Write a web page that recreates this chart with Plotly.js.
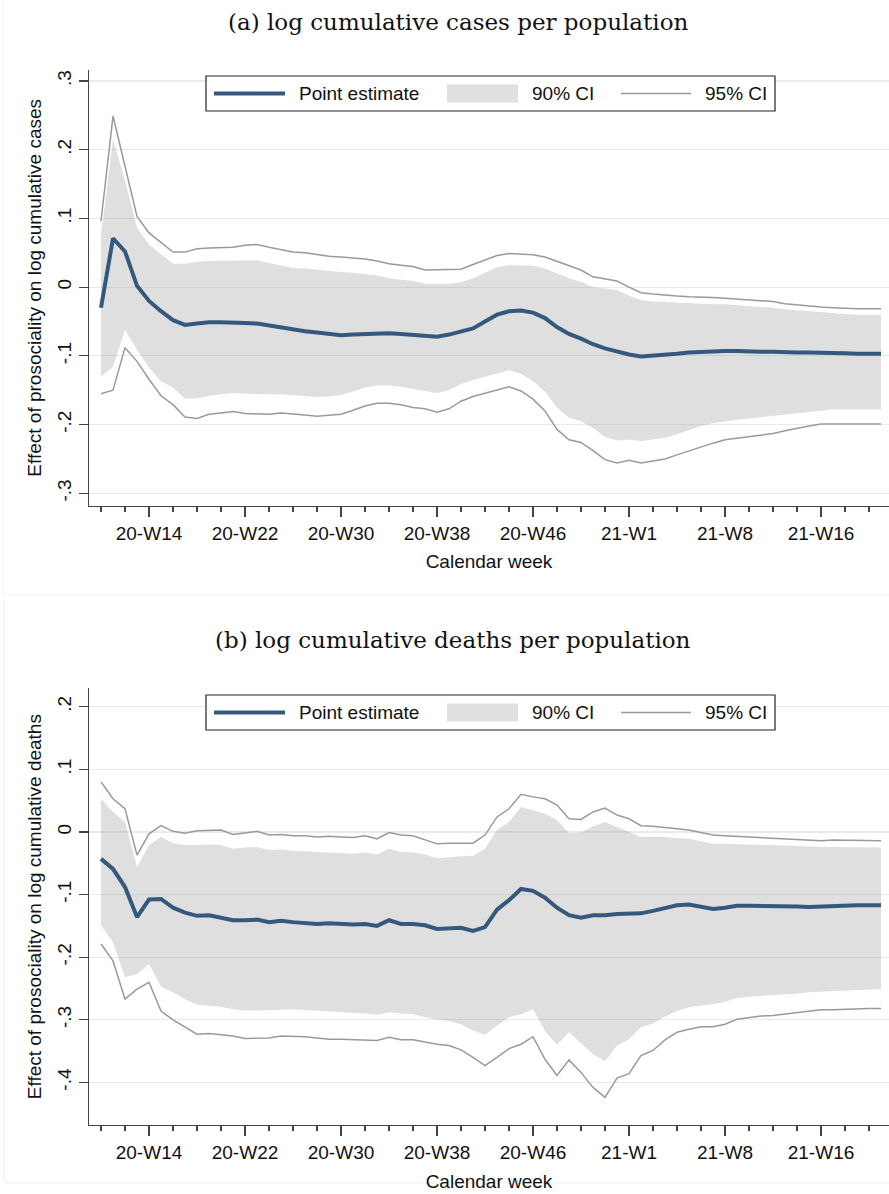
<!DOCTYPE html>
<html>
<head>
<meta charset="utf-8">
<script src="https://cdn.plot.ly/plotly-3.0.1.min.js"></script>
<style>
html,body{margin:0;padding:0;background:#fff;}
#chart{width:889px;height:1194px;}
</style>
</head>
<body>
<div id="chart"></div>
<script>
// ---- Data ----
// x: calendar weeks, index 0 = 2020-W10 ... index 65
const tickWeeks = [4, 12, 20, 28, 36, 44, 52, 60];
const tickLabels = ['20-W14', '20-W22', '20-W30', '20-W38', '20-W46', '21-W1', '21-W8', '21-W16'];

// (a) log cumulative cases per population
const casesPoint = [-0.030,0.071,0.052,0.002,-0.020,-0.035,-0.048,-0.055,-0.053,-0.051,-0.051,-0.051,-0.052,-0.053,-0.056,-0.059,-0.062,-0.064,-0.066,-0.068,-0.070,-0.069,-0.068,-0.068,-0.067,-0.068,-0.069,-0.070,-0.072,-0.069,-0.065,-0.060,-0.050,-0.040,-0.035,-0.034,-0.037,-0.045,-0.058,-0.068,-0.075,-0.083,-0.089,-0.094,-0.098,-0.101,-0.100,-0.099,-0.097,-0.095,-0.094,-0.093,-0.093,-0.093,-0.094,-0.094,-0.094,-0.095,-0.095,-0.095,-0.095,-0.096,-0.096,-0.097,-0.097,-0.097];
const casesHi90 = [0.075,0.215,0.155,0.086,0.062,0.048,0.034,0.034,0.037,0.038,0.038,0.038,0.039,0.039,0.035,0.031,0.028,0.027,0.025,0.023,0.022,0.021,0.019,0.017,0.013,0.011,0.009,0.005,0.005,0.005,0.007,0.013,0.021,0.029,0.032,0.032,0.031,0.027,0.020,0.013,0.008,0.000,-0.002,-0.004,-0.012,-0.019,-0.021,-0.022,-0.023,-0.023,-0.024,-0.025,-0.025,-0.026,-0.027,-0.028,-0.030,-0.032,-0.034,-0.035,-0.036,-0.038,-0.039,-0.040,-0.040,-0.040];
const casesLo90 = [-0.130,-0.116,-0.062,-0.091,-0.117,-0.137,-0.146,-0.162,-0.162,-0.158,-0.156,-0.154,-0.155,-0.156,-0.156,-0.156,-0.157,-0.158,-0.160,-0.159,-0.157,-0.152,-0.146,-0.143,-0.143,-0.145,-0.148,-0.150,-0.154,-0.150,-0.141,-0.135,-0.130,-0.125,-0.121,-0.126,-0.137,-0.152,-0.175,-0.190,-0.195,-0.205,-0.218,-0.223,-0.222,-0.224,-0.222,-0.219,-0.214,-0.208,-0.202,-0.198,-0.195,-0.193,-0.191,-0.189,-0.188,-0.186,-0.184,-0.181,-0.179,-0.178,-0.178,-0.178,-0.178,-0.178];
const casesHi95 = [0.096,0.249,0.176,0.103,0.079,0.065,0.051,0.051,0.056,0.057,0.058,0.058,0.061,0.062,0.058,0.055,0.051,0.050,0.047,0.045,0.044,0.043,0.041,0.038,0.034,0.032,0.030,0.025,0.025,0.025,0.026,0.033,0.039,0.046,0.049,0.048,0.047,0.044,0.038,0.031,0.025,0.015,0.012,0.009,0.000,-0.008,-0.010,-0.012,-0.013,-0.014,-0.014,-0.015,-0.016,-0.017,-0.018,-0.020,-0.021,-0.024,-0.026,-0.028,-0.029,-0.030,-0.031,-0.0315,-0.0315,-0.0315];
const casesLo95 = [-0.155,-0.150,-0.088,-0.108,-0.134,-0.158,-0.171,-0.189,-0.191,-0.185,-0.183,-0.181,-0.184,-0.184,-0.185,-0.183,-0.184,-0.186,-0.188,-0.187,-0.185,-0.179,-0.173,-0.169,-0.169,-0.171,-0.175,-0.177,-0.182,-0.177,-0.166,-0.159,-0.154,-0.149,-0.145,-0.151,-0.163,-0.180,-0.207,-0.222,-0.226,-0.238,-0.251,-0.256,-0.252,-0.256,-0.253,-0.250,-0.244,-0.238,-0.232,-0.227,-0.222,-0.220,-0.218,-0.216,-0.213,-0.209,-0.205,-0.202,-0.199,-0.199,-0.199,-0.199,-0.199,-0.199];

// (b) log cumulative deaths per population
const deathsPoint = [-0.043,-0.059,-0.088,-0.136,-0.108,-0.107,-0.121,-0.129,-0.134,-0.133,-0.137,-0.141,-0.141,-0.140,-0.144,-0.142,-0.144,-0.145,-0.147,-0.146,-0.147,-0.148,-0.147,-0.150,-0.141,-0.147,-0.147,-0.149,-0.155,-0.154,-0.153,-0.158,-0.152,-0.124,-0.109,-0.091,-0.094,-0.105,-0.121,-0.133,-0.137,-0.133,-0.133,-0.131,-0.131,-0.130,-0.126,-0.121,-0.117,-0.116,-0.119,-0.123,-0.121,-0.118,-0.118,-0.118,-0.118,-0.119,-0.119,-0.120,-0.119,-0.118,-0.117,-0.117,-0.117,-0.117];
const deathsHi90 = [0.053,0.032,0.016,-0.056,-0.021,-0.008,-0.018,-0.021,-0.021,-0.020,-0.021,-0.027,-0.025,-0.024,-0.029,-0.028,-0.030,-0.031,-0.033,-0.033,-0.034,-0.035,-0.033,-0.036,-0.027,-0.032,-0.033,-0.036,-0.042,-0.040,-0.039,-0.038,-0.027,0.003,0.016,0.040,0.035,0.029,0.019,-0.002,-0.001,0.009,0.016,0.008,0.000,-0.008,-0.008,-0.008,-0.010,-0.011,-0.015,-0.019,-0.019,-0.020,-0.020,-0.021,-0.021,-0.022,-0.023,-0.024,-0.024,-0.024,-0.024,-0.025,-0.025,-0.025];
const deathsLo90 = [-0.149,-0.176,-0.232,-0.227,-0.211,-0.247,-0.256,-0.267,-0.276,-0.277,-0.279,-0.283,-0.285,-0.285,-0.285,-0.284,-0.283,-0.284,-0.286,-0.287,-0.288,-0.289,-0.290,-0.292,-0.288,-0.290,-0.291,-0.296,-0.300,-0.302,-0.307,-0.317,-0.324,-0.309,-0.296,-0.291,-0.283,-0.318,-0.340,-0.320,-0.337,-0.355,-0.366,-0.341,-0.331,-0.312,-0.306,-0.295,-0.286,-0.280,-0.277,-0.275,-0.271,-0.265,-0.263,-0.262,-0.260,-0.259,-0.258,-0.256,-0.255,-0.254,-0.253,-0.252,-0.251,-0.251];
const deathsHi95 = [0.080,0.053,0.037,-0.037,-0.003,0.010,0.001,-0.002,0.002,0.003,0.003,-0.004,-0.002,0.001,-0.005,-0.004,-0.006,-0.006,-0.008,-0.007,-0.008,-0.009,-0.006,-0.011,-0.001,-0.005,-0.006,-0.012,-0.019,-0.018,-0.018,-0.018,-0.005,0.024,0.037,0.060,0.056,0.053,0.043,0.021,0.020,0.032,0.038,0.027,0.021,0.010,0.009,0.007,0.005,0.003,-0.001,-0.005,-0.006,-0.007,-0.008,-0.009,-0.010,-0.012,-0.013,-0.014,-0.014,-0.013,-0.013,-0.014,-0.014,-0.014];
const deathsLo95 = [-0.179,-0.206,-0.267,-0.251,-0.240,-0.286,-0.300,-0.312,-0.323,-0.322,-0.324,-0.326,-0.330,-0.330,-0.329,-0.326,-0.326,-0.327,-0.329,-0.331,-0.331,-0.332,-0.333,-0.333,-0.328,-0.332,-0.332,-0.336,-0.339,-0.341,-0.348,-0.360,-0.373,-0.360,-0.346,-0.339,-0.327,-0.363,-0.389,-0.364,-0.384,-0.408,-0.424,-0.393,-0.386,-0.357,-0.349,-0.332,-0.320,-0.315,-0.311,-0.311,-0.307,-0.299,-0.296,-0.294,-0.293,-0.291,-0.289,-0.286,-0.284,-0.284,-0.283,-0.283,-0.282,-0.282];

const casesYTicks = [-0.3, -0.2, -0.1, 0, 0.1, 0.2, 0.3];
const casesYLabels = ['-.3', '-.2', '-.1', '0', '.1', '.2', '.3'];
const deathsYTicks = [-0.4, -0.3, -0.2, -0.1, 0, 0.1, 0.2];
const deathsYLabels = ['-.4', '-.3', '-.2', '-.1', '0', '.1', '.2'];

const legendNames = ['Point estimate', '90% CI', '95% CI'];

// ---- Styles ----
const SANS = '"Liberation Sans", Arial, Helvetica, sans-serif';
const SERIF = '"DejaVu Serif", "Liberation Serif", serif';
const BLUE = '#34597d';
const FILL = 'rgba(128,128,128,0.25)';
const CI95 = '#9a9a9a';
const AXIS = '#444444';
const GRID = '#e3eded';
const FRAME = '#efefef';

const weekIndex = casesPoint.map((_, i) => i);

function panelTraces(pt, lo90, hi90, lo95, hi95, xa, ya) {
  return [
    {x: weekIndex, y: lo90, xaxis: xa, yaxis: ya, type: 'scatter', mode: 'lines',
     line: {width: 0, color: FILL}, hoverinfo: 'skip', showlegend: false},
    {x: weekIndex, y: hi90, xaxis: xa, yaxis: ya, type: 'scatter', mode: 'lines',
     fill: 'tonexty', fillcolor: FILL, line: {width: 0, color: FILL}, name: legendNames[1], showlegend: false},
    {x: weekIndex, y: hi95, xaxis: xa, yaxis: ya, type: 'scatter', mode: 'lines',
     line: {width: 1.5, color: CI95}, name: legendNames[2], showlegend: false},
    {x: weekIndex, y: lo95, xaxis: xa, yaxis: ya, type: 'scatter', mode: 'lines',
     line: {width: 1.5, color: CI95}, name: legendNames[2], showlegend: false},
    {x: weekIndex, y: pt, xaxis: xa, yaxis: ya, type: 'scatter', mode: 'lines',
     line: {width: 4, color: BLUE}, name: legendNames[0], showlegend: false}
  ];
}

const data = [].concat(
  panelTraces(casesPoint, casesLo90, casesHi90, casesLo95, casesHi95, 'x', 'y'),
  panelTraces(deathsPoint, deathsLo90, deathsHi90, deathsLo95, deathsHi95, 'x2', 'y2')
);

function xAxis(anchor) {
  return {
    anchor: anchor, domain: [0, 1], range: [-1, 65.667],
    tickmode: 'array', tickvals: tickWeeks, ticktext: tickLabels,
    ticks: 'outside', ticklen: 10, tickwidth: 1.2, tickcolor: AXIS,
    minor: {tickmode: 'linear', tick0: 0, dtick: 2, ticks: 'outside', ticklen: 5,
            tickwidth: 1.2, tickcolor: AXIS, showgrid: false},
    showline: true, linecolor: AXIS, linewidth: 1.2,
    showgrid: false, zeroline: false,
    tickfont: {family: SANS, size: 19, color: '#111'},
    ticklabelstandoff: 0,
    title: {text: 'Calendar week', font: {family: SANS, size: 19, color: '#111'}, standoff: 12}
  };
}

function yAxis(anchor, domain, range, vals, labels, title) {
  return {
    anchor: anchor, domain: domain, range: range,
    tickmode: 'array', tickvals: vals, ticktext: labels, tickangle: -90,
    ticks: 'outside', ticklen: 9, tickwidth: 1.2, tickcolor: AXIS,
    showline: true, linecolor: AXIS, linewidth: 1.2,
    showgrid: true, gridcolor: GRID, gridwidth: 1.2, zeroline: false,
    tickfont: {family: SANS, size: 19, color: '#111'},
    title: {text: title, font: {family: SANS, size: 19, color: '#111'}, standoff: 7}
  };
}

// Manual Stata-like legend boxes (paper coordinates)
const PW = 800, PH = 1055, L = 89, B = 1125;
const px = v => (v - L) / PW;
const py = v => (B - v) / PH;

function legendParts(top) {
  const bottom = top + 35, mid = top + 17.5;
  const shapes = [
    {type: 'rect', xref: 'paper', yref: 'paper', x0: px(206), x1: px(775), y0: py(bottom), y1: py(top),
     line: {color: '#222', width: 1.2}, fillcolor: '#ffffff', layer: 'above'},
    {type: 'line', xref: 'paper', yref: 'paper', x0: px(214), x1: px(285), y0: py(mid), y1: py(mid),
     line: {color: BLUE, width: 4}, layer: 'above'},
    {type: 'rect', xref: 'paper', yref: 'paper', x0: px(447), x1: px(518), y0: py(mid + 9), y1: py(mid - 9),
     line: {width: 0}, fillcolor: '#e0e0e0', layer: 'above'},
    {type: 'line', xref: 'paper', yref: 'paper', x0: px(621), x1: px(691), y0: py(mid), y1: py(mid),
     line: {color: CI95, width: 1.5}, layer: 'above'}
  ];
  const ann = [[296.5, legendNames[0]], [530, legendNames[1]], [703, legendNames[2]]].map(([xv, t]) => ({
    xref: 'paper', yref: 'paper', x: px(xv), y: py(mid), xanchor: 'left', yanchor: 'middle',
    text: t, showarrow: false, font: {family: SANS, size: 19, color: '#111'}
  }));
  return {shapes, ann};
}

const lg1 = legendParts(76);
const lg2 = legendParts(695);

// faint outer frames of the two original graph images
const frames = [
  {type: 'line', xref: 'paper', yref: 'paper', x0: px(3), x1: px(3), y0: py(0), y1: py(595), line: {color: FRAME, width: 1}},
  {type: 'line', xref: 'paper', yref: 'paper', x0: px(3), x1: px(889), y0: py(595), y1: py(595), line: {color: FRAME, width: 1}},
  {type: 'line', xref: 'paper', yref: 'paper', x0: px(4), x1: px(4), y0: py(600), y1: py(1183), line: {color: FRAME, width: 1}},
  {type: 'line', xref: 'paper', yref: 'paper', x0: px(4), x1: px(889), y0: py(1183), y1: py(1183), line: {color: FRAME, width: 1}}
];

const layout = {
  width: 889, height: 1194,
  margin: {l: 89, r: 0, t: 70, b: 69},
  paper_bgcolor: '#ffffff', plot_bgcolor: '#ffffff',
  showlegend: false,
  xaxis: xAxis('y'),
  yaxis: yAxis('x', [py(505.7), 1], [-0.318, 0.316], casesYTicks, casesYLabels,
                'Effect of prosociality on log cumulative cases'),
  xaxis2: xAxis('y2'),
  yaxis2: yAxis('x2', [0, py(688.3)], [-0.468, 0.2294], deathsYTicks, deathsYLabels,
                'Effect of prosociality on log cumulative deaths'),
  shapes: [].concat(frames, lg1.shapes, lg2.shapes),
  annotations: [
    {xref: 'paper', yref: 'paper', x: px(457.5), y: py(22), xanchor: 'center', yanchor: 'middle',
     text: '(a) log cumulative cases per population', showarrow: false,
     font: {family: SERIF, size: 23, color: '#111'}},
    {xref: 'paper', yref: 'paper', x: px(452.5), y: py(640), xanchor: 'center', yanchor: 'middle',
     text: '(b) log cumulative deaths per population', showarrow: false,
     font: {family: SERIF, size: 23, color: '#111'}}
  ].concat(lg1.ann, lg2.ann)
};

Plotly.newPlot('chart', data, layout, {staticPlot: true, displayModeBar: false});
</script>
</body>
</html>
